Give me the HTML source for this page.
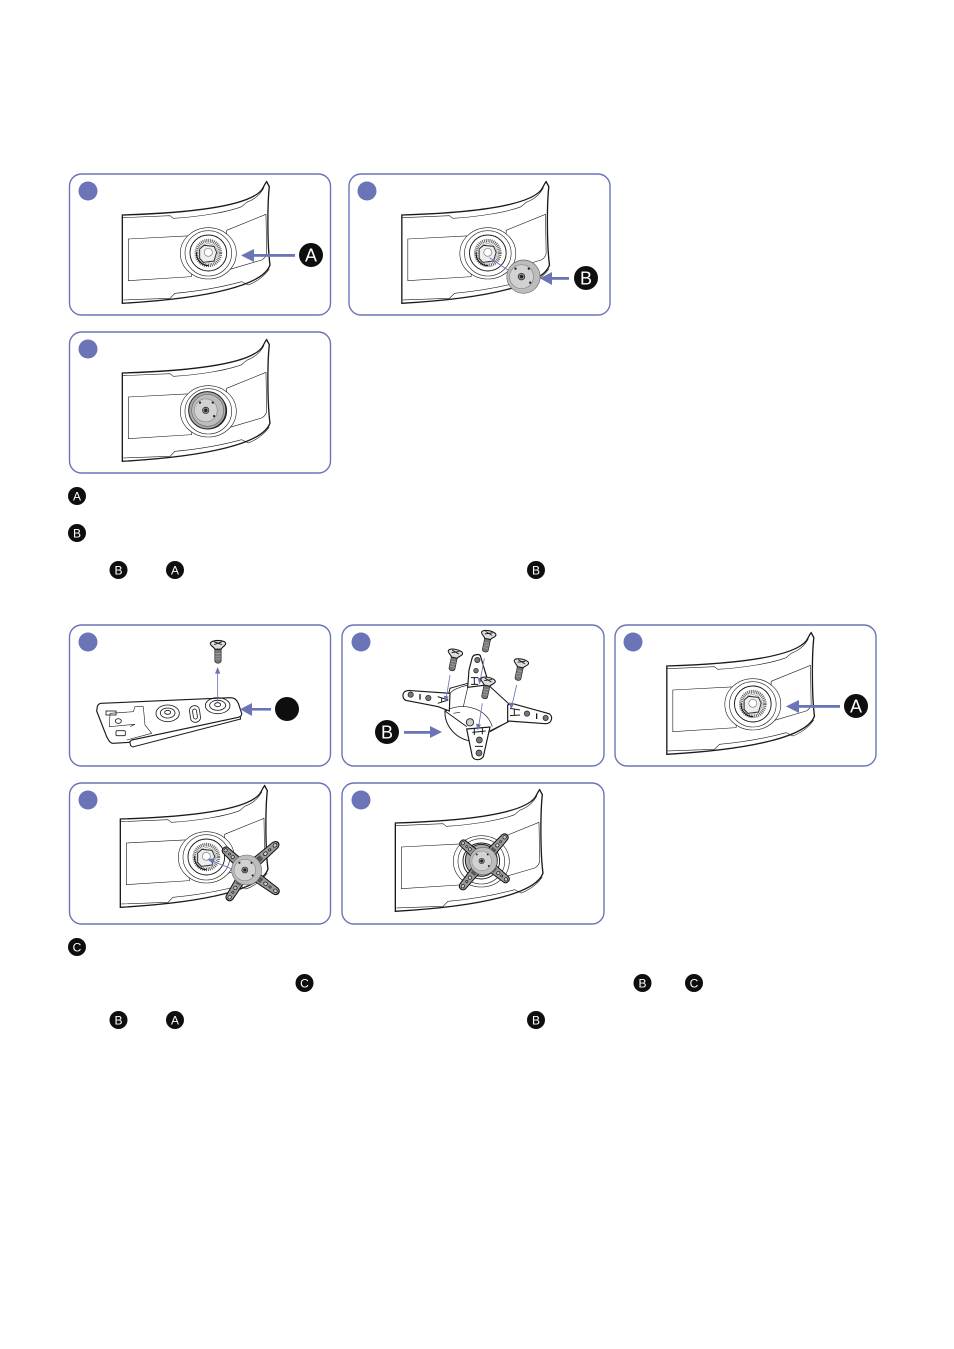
<!DOCTYPE html>
<html><head><meta charset="utf-8"><style>
html,body{margin:0;padding:0;background:#fff}
svg{display:block}
text{font-family:"Liberation Sans",sans-serif;fill:#fff;text-anchor:middle}
</style></head><body>
<svg width="954" height="1349" viewBox="0 0 954 1349" xmlns="http://www.w3.org/2000/svg">
<defs>
<g id="mon" fill="none" stroke="#1a1a1a" stroke-width="1.800">
<path d="M187 150C350 145 560 130 605 75C612 65 615 55 620 50L628 65C622 120 622 240 630 300C610 360 450 400 187 415Z" fill="#fff" stroke-width="4"/>
<path d="M189 158L330 152L340 160C420 155 500 142 545 125L560 112M612 68C600 90 580 105 560 112"/>
<path d="M190 405L330 400L345 385C420 378 490 365 545 350L565 360M565 360C590 350 612 335 628 312"/>
<path d="M205 222L395 212L395 335L205 347Z"/>
<path d="M500 196L618 148L620 265Q618 278 605 285L500 316Z"/>
<ellipse cx="445" cy="265" rx="84" ry="77" fill="#fff"/>
<ellipse cx="445" cy="265" rx="70" ry="68"/>
<ellipse cx="445" cy="264" rx="55" ry="54" stroke-width="2.800"/>
</g>
<g id="hub" fill="none" stroke="#1a1a1a" stroke-width="2">
<ellipse cx="445" cy="264" rx="36" ry="37" stroke-width="11" stroke="#666" stroke-dasharray="3 2.500"/>
<circle cx="445" cy="264" r="28" fill="#f2f2f2" stroke="#777" stroke-width="1.500"/>
<path d="M419 252L432 241L462 244L470 262L462 288L430 292L419 280Z" fill="#eee" stroke="#333" stroke-width="3"/>
<circle cx="445" cy="262" r="12" fill="#fff" stroke="#777"/>
<path d="M410 262C408 285 425 302 446 302" stroke="#111" stroke-width="3"/>
</g>
<g id="disc" stroke="#222" stroke-width="2" fill="#c8c8c8">
<circle cx="0" cy="0" r="50" fill="#bdbdbd" stroke="#666"/>
<circle cx="-6" cy="0" r="36" fill="#d2d2d2" stroke="#888"/>
<circle cx="-6" cy="0" r="10" fill="#888"/>
<circle cx="-6" cy="0" r="4" fill="#222"/>
<circle cx="-24" cy="-24" r="2.500" fill="#222"/><circle cx="16" cy="-24" r="2.500" fill="#222"/><circle cx="20" cy="18" r="2.500" fill="#222"/>
</g>
<g id="arm">
<path d="M22 -14L92 -11C104 -8 104 8 92 11L22 14Z" fill="#9a9a9a" stroke="#111" stroke-width="3"/>
<rect x="34" y="-8" width="14" height="16" fill="#555"/>
<circle cx="60" cy="0" r="5" fill="#ccc" stroke="#111" stroke-width="2"/>
<circle cx="74" cy="0" r="3" fill="#ccc" stroke="#111" stroke-width="2"/>
<circle cx="91" cy="0" r="5" fill="#ccc" stroke="#111" stroke-width="2"/>
</g>
<g id="screw">
<path d="M-9 8L-9 44C-7 52 7 52 9 44L9 8Z" fill="#777" stroke="#222" stroke-width="2"/>
<path d="M-8 22H8M-8 30H8M-8 38H8" stroke="#aaa" stroke-width="2"/>
<path d="M-22 -6C-22 -18 22 -18 22 -6C22 0 11 4 9 10H-9C-11 4 -22 0 -22 -6Z" fill="#ddd" stroke="#111" stroke-width="3"/>
<path d="M-11 -11L11 -3M11 -11L-11 -3" stroke="#111" stroke-width="2.500"/>
</g>
</defs>

<g fill="#fff" stroke="#6a74b6" stroke-width="1.400">
<rect x="69.500" y="174" width="261" height="141" rx="12"/>
<rect x="349" y="174" width="261" height="141" rx="12"/>
<rect x="69.500" y="332" width="261" height="141" rx="12"/>
<rect x="69.500" y="625" width="261" height="141" rx="12"/>
<rect x="342" y="625" width="262" height="141" rx="12"/>
<rect x="615" y="625" width="261" height="141" rx="12"/>
<rect x="69.500" y="783" width="261" height="141" rx="12"/>
<rect x="342" y="783" width="262" height="141" rx="12"/>
</g>
<g fill="#6a74b6">
<circle cx="88" cy="191" r="9.500"/><circle cx="367" cy="191" r="9.500"/><circle cx="88" cy="349" r="9.500"/>
<circle cx="88" cy="642" r="9.500"/><circle cx="361" cy="642" r="9.500"/><circle cx="633" cy="642" r="9.500"/>
<circle cx="88" cy="800" r="9.500"/><circle cx="361" cy="800" r="9.500"/>
</g>

<!-- Panel 1 -->
<g transform="translate(60,165) scale(.3333)"><use href="#mon"/><use href="#hub"/></g>
<!-- Panel 2 -->
<g transform="translate(339.500,165) scale(.3333)"><use href="#mon"/><use href="#hub"/>
<use href="#disc" transform="translate(552,335)"/>
<path d="M450 278L505 315" stroke="#6a74b6" stroke-width="2.500"/></g>
<!-- Panel 3 -->
<g transform="translate(60,323) scale(.3333)"><use href="#mon"/>
<circle cx="442" cy="262" r="56" fill="#aaa" stroke="#222" stroke-width="3"/>
<use href="#disc" transform="translate(443,262) scale(.96)"/></g>

<!-- Plate -->
<g transform="translate(90,685) scale(.3333)" fill="none" stroke="#1a1a1a" stroke-width="2.500">
<path d="M122 182L128 186L452 102L450 92L118 165Z" fill="#fff" stroke-width="3"/>
<path d="M22 65Q24 56 34 55L420 38C435 38 440 45 445 55L455 85C456 92 452 95 445 97L125 165L118 172L70 175C60 175 55 165 50 155L20 78Z" fill="#fff" stroke-width="3.500"/>
<ellipse cx="233" cy="85" rx="35" ry="25"/><ellipse cx="233" cy="84" rx="22" ry="15"/><ellipse cx="233" cy="82" rx="9" ry="6"/>
<rect x="300" y="62" width="30" height="50" rx="14" transform="rotate(-8 315 87)"/><rect x="309" y="72" width="12" height="30" rx="6" transform="rotate(-8 315 87)"/>
<ellipse cx="383" cy="62" rx="37" ry="24"/><ellipse cx="383" cy="61" rx="24" ry="15"/><ellipse cx="383" cy="59" rx="9" ry="6"/>
<path d="M60 85L130 80L135 65L160 65L165 120L185 145L110 165" stroke-width="1.800"/>
<path d="M60 85L58 125L135 118L120 125" stroke-width="1.800"/>
<ellipse cx="85" cy="108" rx="9" ry="7"/><rect x="78" y="137" width="28" height="15" rx="3"/><rect x="48" y="78" width="30" height="12"/>
</g>
<g transform="translate(60,615) scale(.3333)">
<path d="M473 260V172" stroke="#6a74b6" stroke-width="2.500"/>
<path d="M473 156L465 176H481Z" fill="#6a74b6"/>
<use href="#screw" transform="translate(474,92) scale(1.050)"/>
</g>
<circle cx="287" cy="709" r="12" fill="#0e0e0e"/>
<g fill="#6a74b6"><rect x="250" y="708" width="21" height="2.600"/><path d="M240 709.300L252 703V716Z"/></g>

<!-- Bracket assembly -->
<g transform="translate(395,625) scale(.3333)" stroke="#1a1a1a" fill="none" stroke-width="3">
<path d="M150 258C148 300 180 340 225 348L285 320L340 290L340 235L280 180L218 175L165 190L150 258Z" fill="#fff"/>
<path d="M150 260C180 235 270 235 292 305M218 188L205 245M175 265L195 262M165 205C172 195 195 185 220 180" stroke-width="2"/>
<path d="M150 258L215 305M340 290L285 318" stroke-width="3"/>
<path d="M232 97C236 88 252 86 256 92L280 172L276 180L218 187L222 135Z" fill="#fff" stroke-width="3.500"/>
<circle cx="247" cy="105" r="8" fill="#777" stroke-width="2"/><circle cx="243" cy="137" r="7" fill="#777" stroke-width="2"/><path d="M228 158H250M238 158V178M228 178H250" stroke-width="3"/>
<path d="M25 205C30 195 42 196 50 197L165 205L163 258L130 245L32 226C24 222 22 212 25 205Z" fill="#fff" stroke-width="3.500"/>
<circle cx="47" cy="209" r="8" fill="#777" stroke-width="2"/><circle cx="100" cy="219" r="8" fill="#777" stroke-width="2"/><path d="M75 207V224" stroke-width="4"/><path d="M128 215L160 225M128 235L160 225M140 218V232" stroke-width="3"/>
<path d="M338 240L350 235L462 266C475 272 472 296 452 296L338 288Z" fill="#fff" stroke-width="3.500"/>
<circle cx="396" cy="266" r="8" fill="#777" stroke-width="2"/><circle cx="452" cy="279" r="8" fill="#777" stroke-width="2"/><path d="M425 265V282" stroke-width="4"/><path d="M345 250L375 255M345 272L375 270M358 252V270" stroke-width="3"/>
<path d="M215 312L285 306L265 395C255 408 238 406 232 395Z" fill="#fff" stroke-width="3.500"/>
<circle cx="253" cy="345" r="9" fill="#777" stroke-width="2"/><circle cx="252" cy="384" r="9" fill="#777" stroke-width="2"/><path d="M232 322L272 318M238 310V330M262 308V328M240 364H264" stroke-width="3"/>
<circle cx="225" cy="292" r="11" fill="#ccc" stroke-width="2.500"/>
<path d="M165 150L153 225M268 100L255 170M262 235L250 310M365 180L350 245" stroke="#6a74b6" stroke-width="2.500"/>
<g fill="#6a74b6" stroke="none"><path d="M151 232L146 212L161 215Z"/><path d="M253 178L248 158L263 161Z"/><path d="M248 316L243 296L258 299Z"/><path d="M348 252L342 232L358 236Z"/></g>
<use href="#screw" transform="translate(180,88) rotate(12)"/>
<use href="#screw" transform="translate(280,32) rotate(12)"/>
<use href="#screw" transform="translate(278,172) rotate(12)"/>
<use href="#screw" transform="translate(378,117) rotate(12)"/>
</g>
<circle cx="387" cy="732" r="12" fill="#0e0e0e"/>
<g fill="#6a74b6"><rect x="404" y="731" width="27" height="2.800"/><path d="M442 732L430 726V738Z"/></g>

<!-- Panel row 2, third -->
<g transform="translate(604.500,616) scale(.3333)"><use href="#mon"/><use href="#hub"/></g>

<!-- Panel row 3, first -->
<g transform="translate(58,769) scale(.3333)"><use href="#mon"/><use href="#hub"/>
<g transform="translate(566,303)">
<use href="#arm" transform="rotate(-41) scale(1.240,1)"/><use href="#arm" transform="rotate(36) scale(1.170,1)"/>
<use href="#arm" transform="rotate(-137) scale(.95,1)"/><use href="#arm" transform="rotate(122) scale(1.060,1)"/>
<use href="#disc" transform="scale(.9)"/></g>
<path d="M452 272L522 300" stroke="#6a74b6" stroke-width="2.500"/>
<path d="M448 270L470 268L464 284Z" fill="#6a74b6"/></g>
<!-- Panel row 3, second -->
<g transform="translate(333,773) scale(.3333)"><use href="#mon"/>
<circle cx="445" cy="262" r="48" fill="#aaa" stroke="#222" stroke-width="3"/>
<g transform="translate(451,264)">
<use href="#arm" transform="rotate(-48) scale(1.050,1)"/><use href="#arm" transform="rotate(39) scale(.96,1)"/>
<use href="#arm" transform="rotate(-139) scale(.89,1)"/><use href="#arm" transform="rotate(129) scale(1.070,1)"/>
<use href="#disc" transform="scale(.82)"/></g></g>

<!-- Callout arrows -->
<g fill="#6a74b6">
<rect x="250" y="254" width="45" height="2.800"/><path d="M241 255.400L254 249V262Z"/>
<rect x="547" y="277" width="22" height="2.800"/><path d="M540 278.400L552 272V285Z"/>
<rect x="795" y="705" width="45" height="2.800"/><path d="M786 706.400L799 700V713Z"/>
</g>

<!-- Large badges -->
<g fill="#0e0e0e">
<circle cx="311" cy="255" r="12"/><circle cx="586" cy="278" r="12"/><circle cx="856" cy="706" r="12"/>
</g>
<text x="311" y="261.500" font-size="18">A</text>
<text x="586" y="284.500" font-size="18">B</text>
<text x="387" y="738.500" font-size="18">B</text>
<text x="856" y="712.500" font-size="18">A</text>

<!-- Small badges -->
<g fill="#0e0e0e">
<circle cx="77" cy="496" r="9"/><circle cx="77" cy="533" r="9"/>
<circle cx="118.500" cy="570" r="9"/><circle cx="175" cy="570" r="9"/><circle cx="536" cy="570" r="9"/>
<circle cx="77" cy="947" r="9"/>
<circle cx="304.500" cy="983" r="9"/><circle cx="642.500" cy="983" r="9"/><circle cx="694" cy="983" r="9"/>
<circle cx="118.500" cy="1020" r="9"/><circle cx="175" cy="1020" r="9"/><circle cx="536" cy="1020" r="9"/>
</g>
<g font-size="12">
<text x="77" y="500.300">A</text><text x="77" y="537.300">B</text>
<text x="118.500" y="574.300">B</text><text x="175" y="574.300">A</text><text x="536" y="574.300">B</text>
<text x="77" y="951.300">C</text>
<text x="304.500" y="987.300">C</text><text x="642.500" y="987.300">B</text><text x="694" y="987.300">C</text>
<text x="118.500" y="1024.300">B</text><text x="175" y="1024.300">A</text><text x="536" y="1024.300">B</text>
</g>
</svg>
</body></html>
